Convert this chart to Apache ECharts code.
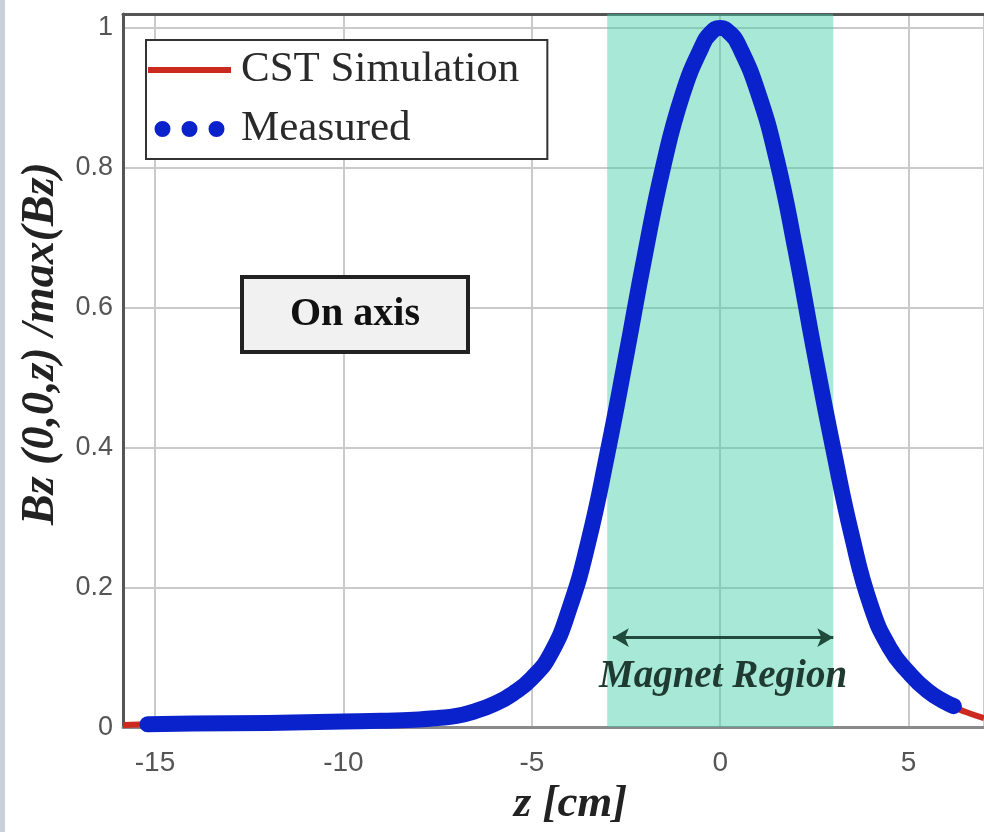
<!DOCTYPE html>
<html>
<head>
    <meta charset="utf-8">
    <title>Bz on axis</title>
    <script src="https://cdn.jsdelivr.net/npm/echarts@6/dist/echarts.min.js"></script>
    <style>
        html, body { margin: 0; padding: 0; background: #fff; }
    </style>
</head>
<body>
    <div id="main" style="width: 984px;height:832px;"></div>
</body>
</html>

<script type="text/javascript">
    // values (z in cm, field normalised to its max)
    var zCst = [-15.85, -15, -12, -10, -8, -7, -6.5, -6, -5.5, -5, -4.5, -4, -3.5, -3, -2.5, -2, -1.5, -1, -0.5,
        -0.25, 0, 0.25, 0.5, 1, 1.5, 2, 2.5, 3, 3.5, 4, 4.5, 5, 5.5, 6, 6.5, 7];
    var bzCst = [0.003, 0.004, 0.006, 0.008, 0.011, 0.016, 0.023, 0.033, 0.048, 0.07, 0.105, 0.17, 0.265, 0.39,
        0.53, 0.675, 0.805, 0.905, 0.972, 0.993, 1.0, 0.993, 0.973, 0.905, 0.81, 0.68, 0.535, 0.395, 0.27,
        0.172, 0.112, 0.077, 0.051, 0.034, 0.022, 0.013];

    var zMeasured = [-15.2, -14, -12, -10, -9, -8, -7.5, -7, -6.5, -6, -5.5, -5, -4.5, -4, -3.5, -3, -2.5, -2,
        -1.5, -1, -0.5, -0.25, 0, 0.25, 0.5, 1, 1.5, 2, 2.5, 3, 3.5, 4, 4.5, 5, 5.5, 6, 6.2];
    var bzMeasured = [0.004, 0.005, 0.006, 0.008, 0.009, 0.011, 0.013, 0.016, 0.023, 0.033, 0.048, 0.07, 0.105,
        0.17, 0.265, 0.39, 0.53, 0.675, 0.805, 0.905, 0.972, 0.993, 1.0, 0.993, 0.974, 0.908, 0.812, 0.682,
        0.536, 0.398, 0.272, 0.173, 0.113, 0.078, 0.052, 0.035, 0.03];

    var magnetRegion = [-3, 3];
    var arrowY = 0.128;

    function pairs(xs, ys) {
        var out = [];
        for (var i = 0; i < xs.length; i++) {
            out.push([xs[i], ys[i]]);
        }
        return out;
    }

    var serif = "'Liberation Serif', 'Times New Roman', serif";
    var sans = "'Liberation Sans', sans-serif";

    var myChart = echarts.init(document.getElementById('main'));

    option = {
        backgroundColor: '#ffffff',
        animation: false,
        grid: {
            left: 123,
            top: 14,
            right: 0,
            bottom: 102
        },
        legend: {
            orient: 'vertical',
            left: 146,
            top: 40,
            padding: [8, 28, 8, 2],
            itemGap: 15,
            itemWidth: 83,
            itemHeight: 16,
            backgroundColor: '#fff',
            borderColor: '#333',
            borderWidth: 2,
            textStyle: {
                fontFamily: serif,
                fontSize: 43,
                lineHeight: 44,
                color: '#2a2a2a',
                padding: [0, 0, 0, 5]
            },
            data: [{
                name: 'CST Simulation',
                icon: 'path://M0,0 h83 v6 h-83 z'
            }, {
                name: 'Measured',
                icon: 'path://M0,8 a8,8 0 1,0 16,0 a8,8 0 1,0 -16,0 M27,8 a8,8 0 1,0 16,0 a8,8 0 1,0 -16,0 M54,8 a8,8 0 1,0 16,0 a8,8 0 1,0 -16,0'
            }]
        },
        xAxis: [{
            type: 'value',
            min: -15.85,
            max: 7,
            splitNumber: 5,
            name: 'z [cm]',
            nameLocation: 'middle',
            nameGap: 52,
            nameTextStyle: {
                fontFamily: serif,
                fontSize: 45,
                fontWeight: 'bold',
                fontStyle: 'italic',
                color: '#222',
                padding: [0, 0, 0, 34]
            },
            axisLine: { onZero: false, lineStyle: { color: '#8a8a8a', width: 3 } },
            axisTick: { show: false },
            axisLabel: {
                showMinLabel: false,
                showMaxLabel: false,
                margin: 22,
                fontFamily: sans,
                fontSize: 28,
                color: '#555',
                formatter: function (v) { return String(v).replace('-', '\u2010'); }
            },
            splitLine: { show: true, lineStyle: { color: '#cacaca', width: 2 } }
        }, {
            // top frame of the plot
            type: 'value',
            position: 'top',
            min: -15.85,
            max: 7,
            axisLine: { onZero: false, lineStyle: { color: '#555', width: 3 } },
            axisTick: { show: false },
            axisLabel: { show: false },
            splitLine: { show: false }
        }],
        yAxis: {
            type: 'value',
            min: 0,
            max: 1.02,
            interval: 0.2,
            name: 'Bz (0,0,z) /max(Bz)',
            nameLocation: 'middle',
            nameGap: 54,
            nameTextStyle: {
                fontFamily: serif,
                fontSize: 46,
                fontWeight: 'bold',
                fontStyle: 'italic',
                color: '#222',
                padding: [0, 0, 0, 54]
            },
            axisLine: { show: true, onZero: false, lineStyle: { color: '#555', width: 3 } },
            axisTick: { show: false },
            axisLabel: {
                showMaxLabel: false,
                margin: 10,
                fontFamily: sans,
                fontSize: 27,
                color: '#555'
            },
            splitLine: { show: true, lineStyle: { color: '#cacaca', width: 2 } }
        },
        graphic: [{
            type: 'rect',
            left: 0,
            top: 0,
            z: 100,
            shape: { width: 5, height: 832 },
            style: { fill: '#c9ced8' }
        }, {
            type: 'group',
            left: 240,
            top: 275,
            z: 100,
            children: [{
                type: 'rect',
                z: 100,
                shape: { x: 0, y: 0, width: 226, height: 75 },
                style: { fill: '#f1f1f1', stroke: '#222', lineWidth: 4 }
            }, {
                type: 'text',
                z: 101,
                x: 113,
                y: 38,
                style: {
                    text: 'On axis',
                    fontFamily: serif,
                    fontSize: 40,
                    fontWeight: 'bold',
                    fill: '#111',
                    align: 'center',
                    verticalAlign: 'middle'
                }
            }]
        }],
        series: [{
            name: 'CST Simulation',
            type: 'line',
            smooth: 0.5,
            symbol: 'none',
            color: '#cc2a1e',
            lineStyle: { width: 6, color: '#cc2a1e' },
            data: pairs(zCst, bzCst),
            markArea: {
                silent: true,
                itemStyle: { color: 'rgba(60, 205, 165, 0.45)' },
                data: [[{ xAxis: magnetRegion[0] }, { xAxis: magnetRegion[1] }]]
            },
            markLine: {
                silent: true,
                symbol: ['arrow', 'arrow'],
                symbolSize: [14, 16],
                lineStyle: { color: '#1f4a3c', width: 3, type: 'solid' },
                label: {
                    show: true,
                    position: 'insideMiddleBottom',
                    distance: 20,
                    formatter: 'Magnet Region',
                    fontFamily: serif,
                    fontSize: 39,
                    fontWeight: 'bold',
                    fontStyle: 'italic',
                    color: '#1f3a30'
                },
                data: [[{ coord: [-2.85, arrowY] }, { coord: [3.0, arrowY] }]]
            }
        }, {
            name: 'Measured',
            type: 'line',
            smooth: 0.5,
            symbol: 'none',
            color: '#0a22cc',
            lineStyle: { width: 16, color: '#0a22cc', cap: 'round', join: 'round' },
            data: pairs(zMeasured, bzMeasured)
        }]
    };

    myChart.setOption(option);
</script>
